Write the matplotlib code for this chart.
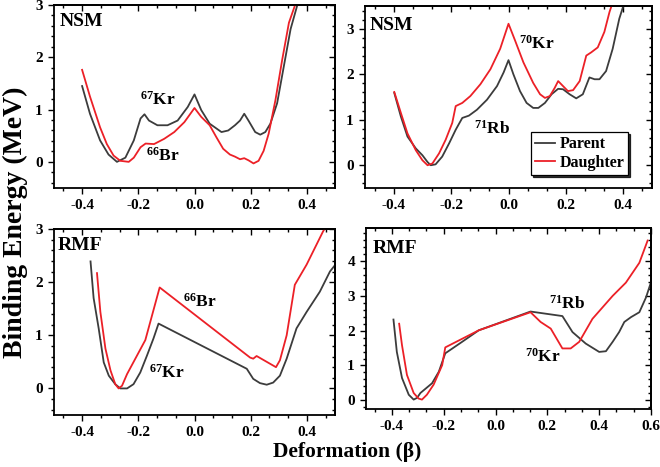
import matplotlib
matplotlib.use('Agg')
import matplotlib.pyplot as plt
from matplotlib.ticker import MultipleLocator, AutoMinorLocator

# 字體設定: Times 風格粗體
plt.rcParams['font.family'] = 'Liberation Serif'
plt.rcParams['font.weight'] = 'bold'
plt.rcParams['mathtext.fontset'] = 'custom'
plt.rcParams['mathtext.rm'] = 'Liberation Serif:bold'
plt.rcParams['mathtext.it'] = 'Liberation Serif:bold'
plt.rcParams['mathtext.bf'] = 'Liberation Serif:bold'

GRAY = '#3c3c3c'
RED = '#ec2027'

# ---- NSM, 67Kr -> 66Br ----
nsm_a_parent_x = [-0.40, -0.372, -0.336, -0.306, -0.276, -0.246, -0.216, -0.192, -0.178, -0.162,
                  -0.132, -0.096, -0.06, -0.024, 0.0, 0.024, 0.054, 0.096, 0.12, 0.144,
                  0.162, 0.177, 0.192, 0.216, 0.234, 0.252, 0.27, 0.294, 0.318, 0.342, 0.366, 0.385]
nsm_a_parent_y = [1.45, 0.92, 0.41, 0.14, 0.0, 0.08, 0.41, 0.83, 0.91, 0.79,
                  0.70, 0.70, 0.79, 1.05, 1.29, 0.99, 0.73, 0.57, 0.60, 0.70,
                  0.79, 0.92, 0.79, 0.57, 0.52, 0.57, 0.73, 1.12, 1.83, 2.54, 3.0, 3.5]
nsm_a_daughter_x = [-0.40, -0.372, -0.336, -0.312, -0.288, -0.264, -0.234, -0.216, -0.192, -0.174,
                    -0.144, -0.108, -0.072, -0.036, 0.0, 0.024, 0.054, 0.078, 0.102, 0.126,
                    0.144, 0.162, 0.177, 0.192, 0.21, 0.228, 0.246, 0.264, 0.288, 0.312, 0.336, 0.358, 0.375]
nsm_a_daughter_y = [1.76, 1.25, 0.66, 0.34, 0.12, 0.02, 0.0, 0.08, 0.28, 0.35,
                    0.34, 0.44, 0.57, 0.76, 1.03, 0.86, 0.70, 0.47, 0.25, 0.14,
                    0.10, 0.05, 0.07, 0.03, -0.03, 0.02, 0.21, 0.54, 1.18, 1.95, 2.66, 3.0, 3.5]

# ---- NSM, 71Rb -> 70Kr ----
nsm_b_parent_x = [-0.398, -0.375, -0.352, -0.323, -0.30, -0.282, -0.271, -0.254, -0.231, -0.207,
                  -0.184, -0.161, -0.138, -0.11, -0.075, -0.04, -0.017, 0.0, 0.017, 0.04,
                  0.063, 0.086, 0.104, 0.127, 0.15, 0.173, 0.19, 0.213, 0.236, 0.259,
                  0.282, 0.30, 0.317, 0.34, 0.363, 0.386, 0.40, 0.41]
nsm_b_parent_y = [1.59, 1.07, 0.63, 0.37, 0.22, 0.07, 0.0, 0.02, 0.19, 0.48,
                  0.78, 1.04, 1.09, 1.22, 1.44, 1.74, 2.04, 2.31, 2.0, 1.63,
                  1.37, 1.26, 1.26, 1.37, 1.56, 1.68, 1.67, 1.56, 1.47, 1.56,
                  1.93, 1.89, 1.89, 2.07, 2.56, 3.22, 3.5, 3.8]
nsm_b_daughter_x = [-0.398, -0.375, -0.352, -0.323, -0.30, -0.282, -0.265, -0.242, -0.219, -0.196,
                    -0.184, -0.161, -0.133, -0.098, -0.063, -0.029, 0.0, 0.023, 0.052, 0.086,
                    0.11, 0.127, 0.144, 0.161, 0.173, 0.19, 0.207, 0.225, 0.248, 0.271,
                    0.288, 0.311, 0.334, 0.352, 0.36, 0.37]
nsm_b_daughter_y = [1.61, 1.15, 0.70, 0.33, 0.11, 0.0, 0.04, 0.26, 0.56, 0.93,
                    1.30, 1.37, 1.52, 1.78, 2.11, 2.56, 3.11, 2.74, 2.26, 1.81,
                    1.56, 1.48, 1.52, 1.70, 1.85, 1.74, 1.63, 1.65, 1.85, 2.41,
                    2.48, 2.59, 2.93, 3.37, 3.52, 3.8]

# ---- RMF, 67Kr -> 66Br ----
rmf_a_parent_x = [-0.37, -0.359, -0.341, -0.323, -0.305, -0.282, -0.264, -0.24, -0.217, -0.193,
                  -0.169, -0.146, -0.128, 0.186, 0.209, 0.233, 0.257, 0.28, 0.304, 0.328,
                  0.363, 0.399, 0.446, 0.482, 0.50]
rmf_a_parent_y = [2.39, 1.70, 1.13, 0.49, 0.24, 0.08, 0.0, 0.0, 0.08, 0.30,
                  0.62, 0.94, 1.22, 0.37, 0.18, 0.10, 0.07, 0.11, 0.24, 0.56,
                  1.13, 1.44, 1.82, 2.20, 2.32]
rmf_a_daughter_x = [-0.347, -0.335, -0.317, -0.299, -0.282, -0.27, -0.258, -0.24, -0.175, -0.124,
                    0.198, 0.209, 0.221, 0.29, 0.304, 0.328, 0.357, 0.399, 0.458, 0.50]
rmf_a_daughter_y = [2.17, 1.44, 0.75, 0.34, 0.08, 0.0, 0.05, 0.27, 0.91, 1.90,
                    0.58, 0.56, 0.61, 0.40, 0.53, 1.0, 1.95, 2.33, 2.96, 3.3]

# ---- RMF, 71Rb -> 70Kr ----
rmf_b_parent_x = [-0.394, -0.381, -0.361, -0.335, -0.316, -0.303, -0.29, -0.245, -0.219, -0.194,
                  -0.129, -0.065, 0.135, 0.258, 0.297, 0.348, 0.40, 0.426, 0.452, 0.477,
                  0.497, 0.523, 0.555, 0.581, 0.606]
rmf_b_parent_y = [2.32, 1.39, 0.64, 0.16, 0.02, 0.07, 0.21, 0.49, 0.82, 1.35,
                  1.68, 2.01, 2.55, 2.42, 1.96, 1.63, 1.39, 1.41, 1.68, 1.96,
                  2.25, 2.39, 2.53, 2.96, 3.53]
rmf_b_daughter_x = [-0.372, -0.361, -0.342, -0.316, -0.297, -0.284, -0.265, -0.239, -0.206, -0.194,
                    -0.065, 0.135, 0.174, 0.213, 0.258, 0.29, 0.323, 0.374, 0.452, 0.503,
                    0.555, 0.587]
rmf_b_daughter_y = [2.20, 1.58, 0.73, 0.21, 0.05, 0.02, 0.16, 0.45, 1.01, 1.52,
                    2.01, 2.53, 2.25, 2.06, 1.49, 1.49, 1.68, 2.34, 3.0, 3.38,
                    3.95, 4.59]

W, H = 660, 467
fig = plt.figure(figsize=(W / 100, H / 100), dpi=100)


def make_ax(x0, y0, x1, y1):
    # 以像素座標建立座標軸
    return fig.add_axes([x0 / W, 1 - y1 / H, (x1 - x0) / W, (y1 - y0) / H])


def style(ax, xlim, ylim):
    ax.set_xlim(*xlim)
    ax.set_ylim(*ylim)
    ax.xaxis.set_major_locator(MultipleLocator(0.2))
    ax.xaxis.set_minor_locator(AutoMinorLocator(3))
    ax.yaxis.set_major_locator(MultipleLocator(1))
    ax.yaxis.set_minor_locator(AutoMinorLocator(5))
    ax.xaxis.set_major_formatter(plt.FuncFormatter(lambda v, p: '%.1f' % v))
    for s in ax.spines.values():
        s.set_linewidth(1.3)
    ax.tick_params(which='both', direction='out', width=1.0, labelsize=11)
    ax.tick_params(which='major', length=4.5)
    ax.tick_params(which='minor', length=2.5)
    # 上方與右方的內向刻度
    top = ax.secondary_xaxis('top')
    top.xaxis.set_major_locator(MultipleLocator(0.2))
    top.xaxis.set_minor_locator(AutoMinorLocator(3))
    top.tick_params(which='both', direction='in', labeltop=False, width=1.0)
    top.tick_params(which='major', length=4.5)
    top.tick_params(which='minor', length=2.5)
    right = ax.secondary_yaxis('right')
    right.yaxis.set_major_locator(MultipleLocator(1))
    right.yaxis.set_minor_locator(AutoMinorLocator(5))
    right.tick_params(which='both', direction='in', labelright=False, width=1.0)
    right.tick_params(which='major', length=4.5)
    right.tick_params(which='minor', length=2.5)
    for sec in (top, right):
        for s in sec.spines.values():
            s.set_linewidth(1.3)


ax1 = make_ax(54, 5, 335, 188)
ax2 = make_ax(365, 6, 652, 188)
ax3 = make_ax(54, 229, 335, 415)
ax4 = make_ax(366, 228, 651, 409)

lw = 1.3
ax1.plot(nsm_a_parent_x, nsm_a_parent_y, color=GRAY, lw=lw)
ax1.plot(nsm_a_daughter_x, nsm_a_daughter_y, color=RED, lw=lw)
style(ax1, (-0.5, 0.5), (-0.5, 3.0))
ax1.text(0.02, 0.955, 'NSM', transform=ax1.transAxes, va='top', fontsize=14)
ax1.text(-0.132, 1.18, r'$^{67}$Kr', ha='center', va='center', fontsize=12.5)
ax1.text(-0.114, 0.12, r'$^{66}$Br', ha='center', va='center', fontsize=12.5)

ax2.plot(nsm_b_parent_x, nsm_b_parent_y, color=GRAY, lw=lw, label='Parent')
ax2.plot(nsm_b_daughter_x, nsm_b_daughter_y, color=RED, lw=lw, label='Daughter')
style(ax2, (-0.5, 0.5), (-0.5, 3.5))
ax2.text(0.017, 0.94, 'NSM', transform=ax2.transAxes, va='top', fontsize=14)
ax2.text(0.098, 2.67, r'$^{70}$Kr', ha='center', va='center', fontsize=12.5)
ax2.text(-0.058, 0.81, r'$^{71}$Rb', ha='center', va='center', fontsize=12.5)
leg = ax2.legend(loc='lower right', bbox_to_anchor=(0.945, 0.03), fontsize=11.5,
                 handlelength=1.2, handletextpad=0.3, borderpad=0.25, labelspacing=0.15,
                 fancybox=False, framealpha=1, edgecolor='black',
                 shadow={'ox': 1.5, 'oy': -1.5, 'color': 'black', 'alpha': 0.8})
leg.get_frame().set_linewidth(0.9)

ax3.plot(rmf_a_parent_x, rmf_a_parent_y, color=GRAY, lw=lw)
ax3.plot(rmf_a_daughter_x, rmf_a_daughter_y, color=RED, lw=lw)
style(ax3, (-0.5, 0.5), (-0.5, 3.0))
ax3.text(0.012, 0.955, 'RMF', transform=ax3.transAxes, va='top', fontsize=14)
ax3.text(0.02, 1.63, r'$^{66}$Br', ha='center', va='center', fontsize=12.5)
ax3.text(-0.10, 0.30, r'$^{67}$Kr', ha='center', va='center', fontsize=12.5)

ax4.plot(rmf_b_parent_x, rmf_b_parent_y, color=GRAY, lw=lw)
ax4.plot(rmf_b_daughter_x, rmf_b_daughter_y, color=RED, lw=lw)
style(ax4, (-0.5, 0.6), (-0.25, 4.95))
ax4.text(0.024, 0.935, 'RMF', transform=ax4.transAxes, va='top', fontsize=14)
ax4.text(0.277, 2.77, r'$^{71}$Rb', ha='center', va='center', fontsize=12.5)
ax4.text(0.181, 1.25, r'$^{70}$Kr', ha='center', va='center', fontsize=12.5)

fig.text(15 / W, 1 - 222 / H, 'Binding Energy (MeV)', rotation=90, ha='center', va='center', fontsize=20)
fig.text(347 / W, 1 - 452 / H, 'Deformation (β)', ha='center', va='center', fontsize=15.5)

plt.savefig('out.png', dpi=100)
